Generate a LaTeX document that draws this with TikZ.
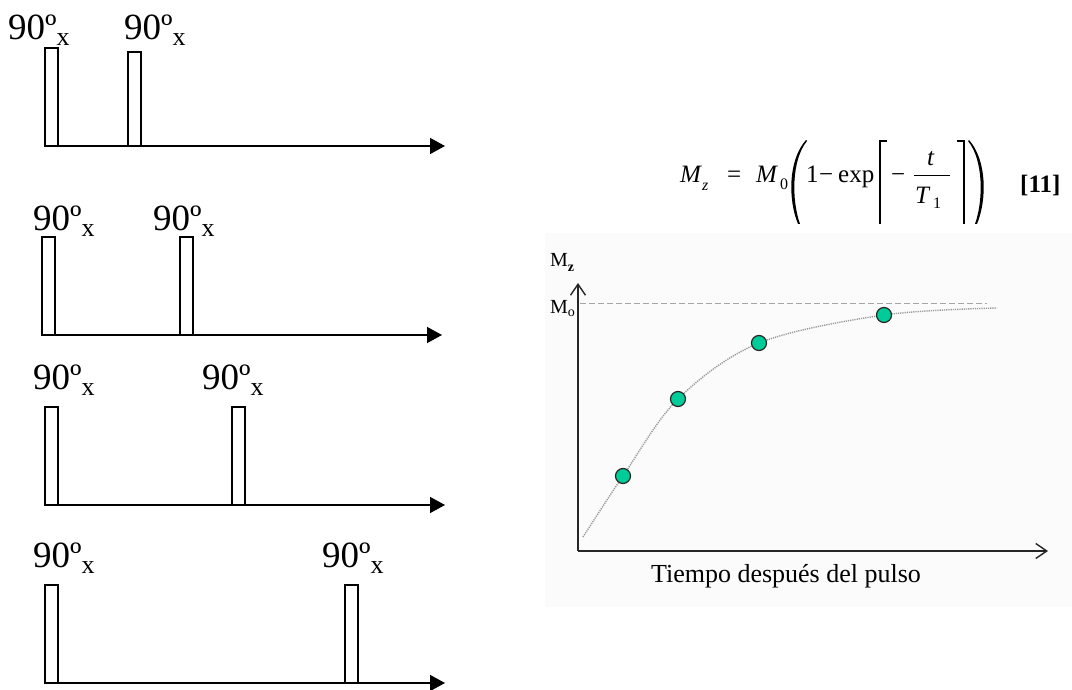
\documentclass[tikz,border=0pt]{standalone}
\usepackage{fontspec}
\setmainfont{Liberation Serif}
\usepackage{graphicx}
\usetikzlibrary{arrows.meta}
\definecolor{dotfill}{RGB}{0,204,153}
\definecolor{bgc}{RGB}{251,251,251}
\tikzset{
  pulse/.style={draw, line width=1.5pt, fill=white, inner sep=0pt, outer sep=0pt, minimum width=13pt, minimum height=98pt, anchor=south west},
  taxis/.style={line width=1.5pt, -{Triangle[length=15pt,width=16pt]}},
  lbl/.style={anchor=base west, inner sep=0pt, font=\fontsize{37}{37}\selectfont},
  gaxis/.style={line width=1.4pt, black!85, -{Straight Barb[length=11pt,width=15pt,line width=1.4pt]}},
  mline/.style={gray!70, line width=0.8pt, dash pattern=on 6pt off 3pt},
  curve/.style={gray!80, line width=1.4pt, dash pattern=on 1.2pt off 1pt},
  dot/.style={circle, draw=black!85, line width=1.2pt, fill=dotfill, minimum size=15pt, inner sep=0pt},
  eq/.style={anchor=base west, inner sep=0pt, font=\fontsize{25}{25}\selectfont},
  eqs/.style={anchor=base west, inner sep=0pt, font=\fontsize{16}{16}\selectfont},
  glbl/.style={anchor=base west, inner sep=0pt, font=\fontsize{20}{20}\selectfont},
}
\newcommand{\ninetyx}{90º\raisebox{-6pt}{\fontsize{26}{26}\selectfont x}}
\begin{document}
\begin{tikzpicture}[x=1pt,y=-1pt]
\useasboundingbox (0,0) rectangle (1072,690);
% ---------- row 1
\node[lbl] (l11) at (8,40) {\ninetyx};
\node[lbl] (l12) at (124,40) {\ninetyx};
\node[pulse, minimum height=98pt] (p11) at (45,146) {};
\node[pulse, minimum height=94pt] (p12) at (128,146) {};
\coordinate (e1) at (445,146);
\draw[taxis] (p11.south west) -- (e1);
% ---------- row 2
\node[lbl] (l21) at (33,230) {\ninetyx};
\node[lbl] (l22) at (153,230) {\ninetyx};
\node[pulse] (p21) at (42,335) {};
\node[pulse] (p22) at (180,335) {};
\coordinate (e2) at (442,335);
\draw[taxis] (p21.south west) -- (e2);
% ---------- row 3
\node[lbl] (l31) at (33,389) {\ninetyx};
\node[lbl] (l32) at (202,389) {\ninetyx};
\node[pulse] (p31) at (45,505) {};
\node[pulse] (p32) at (232,505) {};
\coordinate (e3) at (445,505);
\draw[taxis] (p31.south west) -- (e3);
% ---------- row 4
\node[lbl] (l41) at (33,567) {\ninetyx};
\node[lbl] (l42) at (322,567) {\ninetyx};
\node[pulse] (p41) at (45,683) {};
\node[pulse] (p42) at (345,683) {};
\coordinate (e4) at (445,683);
\draw[taxis] (p41.south west) -- (e4);
% ---------- equation
\node[eq] (eM) at (680,183) {\itshape M};
\node[eqs] (ez) at (702,191) {\itshape z};
\node[eq] (eeq) at (727,183) {=};
\node[eq] (eM0) at (756,183) {\itshape M};
\node[eqs] (e0) at (780,190) {0};
\fill (806,140) .. controls (788,160) and (788,200) .. (798,224) -- (800,224) .. controls (791.5,200) and (791.5,160) .. (807,141) -- cycle;
\node[eq] (e1n) at (806,183) {1};
\node[eq] (emin) at (819,183) {−};
\node[eq] (eexp) at (838,183) {exp};
\draw[line width=1.1pt] (887,141) -- (880,141) -- (880,224);
\node[eq] (emin2) at (891,183) {−};
\node[eq] (et) at (927,166) {\itshape t};
\draw[line width=0.9pt] (914,175) -- (950,175);
\node[eq] (eT) at (915,204) {\itshape T};
\node[eqs] (e1s) at (933,208) {1};
\draw[line width=1.1pt] (957,141) -- (964,141) -- (964,224);
\fill (969,140) .. controls (987,160) and (987,200) .. (977,224) -- (975,224) .. controls (983.5,200) and (983.5,160) .. (968,141) -- cycle;
\node[eq] (enum) at (1020,193) {\bfseries [11]};
% ---------- graph
\fill[bgc] (545,233) rectangle (1072,607);
\coordinate (O) at (578,551);
\coordinate (ytop) at (578,283);
\coordinate (xend) at (1048,551);
\draw[gaxis] (O) -- (ytop);
\draw[gaxis] (O) -- (xend);
\coordinate (m0a) at (580,303);
\coordinate (m0b) at (987,303);
\draw[mline] (m0a) -- (m0b);
\coordinate (c0) at (583,537);
\coordinate (c1) at (623,476);
\coordinate (c2) at (678,399);
\coordinate (c3) at (759,343);
\coordinate (c4) at (884,315);
\coordinate (c5) at (997,308);
\draw[curve] plot[smooth, tension=0.55] coordinates {(c0) (c1) (c2) (c3) (c4) (c5)};
\node[dot] (d1) at (c1) {};
\node[dot] (d2) at (c2) {};
\node[dot] (d3) at (c3) {};
\node[dot] (d4) at (c4) {};
\node[glbl] (mz) at (550,266) {M\raisebox{-5pt}{\fontsize{14}{14}\selectfont\bfseries z}};
\node[glbl] (mo) at (550,313) {M\raisebox{-3pt}{\fontsize{14}{14}\selectfont o}};
\node[anchor=base, inner sep=0pt, font=\fontsize{26}{26}\selectfont] (xl) at (786,582) {Tiempo después del pulso};
\end{tikzpicture}
\end{document}
